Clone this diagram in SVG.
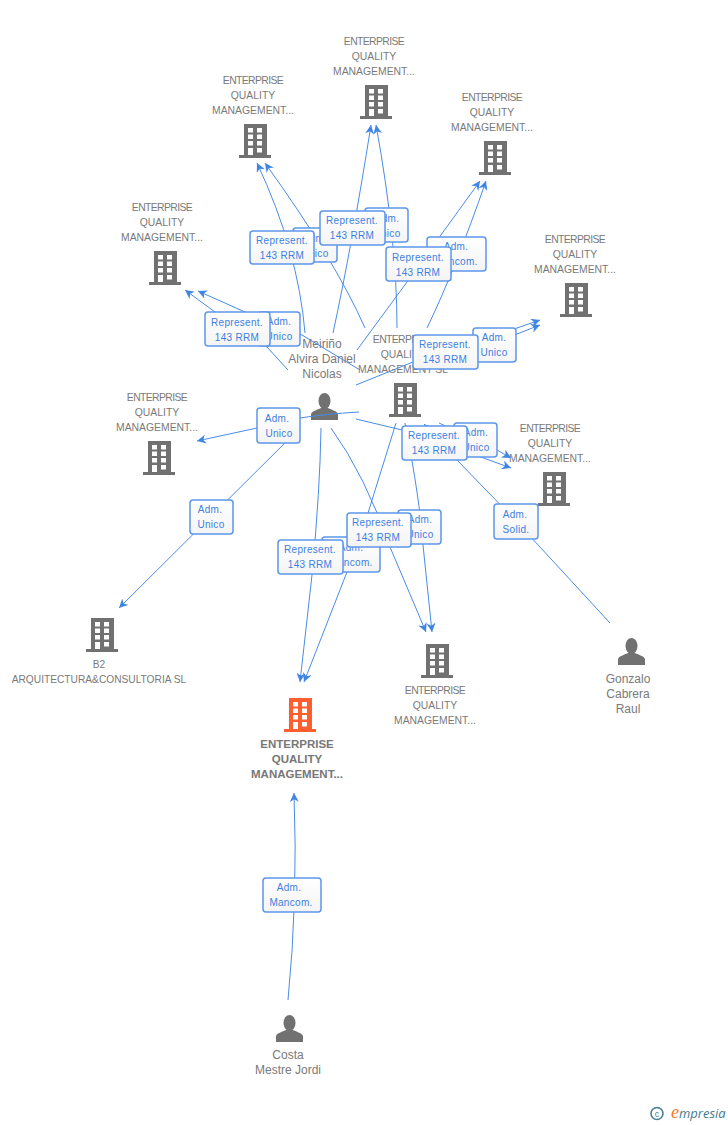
<svg xmlns="http://www.w3.org/2000/svg" width="728" height="1125" viewBox="0 0 728 1125">
<style>
text{font-family:"Liberation Sans",Arial,sans-serif}
.n{font-size:10.400px;fill:#7a7a7a;text-anchor:middle}
.w{letter-spacing:-.6px}
.p{font-size:12px;fill:#7a7a7a;text-anchor:middle}
.m{font-size:11.500px;font-weight:bold;fill:#777;text-anchor:middle}
.e{fill:none;stroke:#4a8ce6;stroke-width:1;marker-end:url(#a)}
.b{fill:url(#g);stroke:#5c97ea;stroke-width:1.500}
.l{font-size:10px;letter-spacing:.3px;fill:#3c80e0;text-anchor:middle}
</style>
<defs>
<linearGradient id="g" x1="0" y1="0" x2="0" y2="1"><stop offset="0" stop-color="#fff"/><stop offset="1" stop-color="#f4f4f4"/></linearGradient>
<marker id="a" markerUnits="userSpaceOnUse" markerWidth="9" markerHeight="9" refX="10" refY="5" orient="auto" viewBox="0 0 10 10"><path d="M10,5L0,0L3,5L0,10Z" fill="#3f85e4"/></marker>
<symbol id="bld" width="32" height="34" viewBox="0 0 32 34" overflow="visible"><path fill-rule="evenodd" d="M5,0H28V31H32V34H0V31H5ZM9,4V8.500H14V4ZM18,4V8.500H23V4ZM9,10.500V15H14V10.500ZM18,10.500V15H23V10.500ZM9,17V21.500H14V17ZM18,17V21.500H23V17ZM9,24V31H14V24ZM18,24V28.500H23V24Z"/></symbol>
<symbol id="per" width="27" height="27" viewBox="0 0 27 27"><ellipse cx="13.500" cy="8" rx="6" ry="8"/><path d="M0,27V21C1,18 6,17 10,15H17C21,17 26,18 27,21V27Z"/></symbol>
</defs>
<rect width="728" height="1125" fill="#fff"/>

<g id="n1" fill="#717171"><use href="#bld" x="360" y="85"/><text class="n"><tspan class="w" x="374" y="45">ENTERPRISE</tspan><tspan x="374" y="60">QUALITY</tspan><tspan x="374" y="75">MANAGEMENT...</tspan></text></g>
<g id="n2" fill="#717171"><use href="#bld" x="239" y="124"/><text class="n"><tspan class="w" x="253" y="84">ENTERPRISE</tspan><tspan x="253" y="99">QUALITY</tspan><tspan x="253" y="114">MANAGEMENT...</tspan></text></g>
<g id="n3" fill="#717171"><use href="#bld" x="479" y="141"/><text class="n"><tspan class="w" x="492" y="101">ENTERPRISE</tspan><tspan x="492" y="116">QUALITY</tspan><tspan x="492" y="131">MANAGEMENT...</tspan></text></g>
<g id="n4" fill="#717171"><use href="#bld" x="149" y="251"/><text class="n"><tspan class="w" x="162" y="211">ENTERPRISE</tspan><tspan x="162" y="226">QUALITY</tspan><tspan x="162" y="241">MANAGEMENT...</tspan></text></g>
<g id="n5" fill="#717171"><use href="#bld" x="560" y="283"/><text class="n"><tspan class="w" x="575" y="243">ENTERPRISE</tspan><tspan x="575" y="258">QUALITY</tspan><tspan x="575" y="273">MANAGEMENT...</tspan></text></g>
<g id="n6" fill="#717171"><use href="#bld" x="143" y="441"/><text class="n"><tspan class="w" x="157" y="401">ENTERPRISE</tspan><tspan x="157" y="416">QUALITY</tspan><tspan x="157" y="431">MANAGEMENT...</tspan></text></g>
<g id="n7" fill="#717171"><use href="#bld" x="389" y="383"/><text class="n"><tspan class="w" x="403" y="343">ENTERPRISE</tspan><tspan x="403" y="358">QUALITY</tspan><tspan x="403" y="373">MANAGEMENT SL</tspan></text></g>
<g id="n8" fill="#717171"><use href="#per" x="311" y="393"/><text class="p"><tspan x="322" y="348">Meiriño</tspan><tspan x="322" y="363">Alvira Daniel</tspan><tspan x="322" y="378">Nicolas</tspan></text></g>
<g id="n9" fill="#717171"><use href="#bld" x="538" y="472"/><text class="n"><tspan class="w" x="550" y="432">ENTERPRISE</tspan><tspan x="550" y="447">QUALITY</tspan><tspan x="550" y="462">MANAGEMENT...</tspan></text></g>
<g id="n10" fill="#717171"><use href="#bld" x="421" y="644"/><text class="n"><tspan class="w" x="435" y="694">ENTERPRISE</tspan><tspan x="435" y="709">QUALITY</tspan><tspan x="435" y="724">MANAGEMENT...</tspan></text></g>
<g id="n11" fill="#717171"><use href="#bld" x="86" y="618"/><text class="n" style="font-size:10.200px"><tspan x="99" y="668">B2</tspan><tspan x="99" y="683">ARQUITECTURA&amp;CONSULTORIA SL</tspan></text></g>
<g id="n12" fill="#ff5e2f"><use href="#bld" x="284" y="698"/><text class="m"><tspan x="297" y="748">ENTERPRISE</tspan><tspan x="297" y="763">QUALITY</tspan><tspan x="297" y="778">MANAGEMENT...</tspan></text></g>
<g id="n13" fill="#717171"><use href="#per" x="618" y="638"/><text class="p"><tspan x="628" y="683">Gonzalo</tspan><tspan x="628" y="698">Cabrera</tspan><tspan x="628" y="713">Raul</tspan></text></g>
<g id="n14" fill="#717171"><use href="#per" x="276" y="1015"/><text class="p"><tspan x="288" y="1059">Costa</tspan><tspan x="288" y="1074">Mestre Jordi</tspan></text></g>

<g id="connectors">
<path class="e" d="M333,333Q352,245 371,125"/>
<path class="e" d="M397,328Q397,240 376,125"/>
<path class="e" d="M305,333Q298,250 257,163"/>
<path class="e" d="M365,328Q335,260 265,163"/>
<path class="e" d="M357,350L407,282L480,181"/>
<path class="e" d="M427,328Q455,270 486,181"/>
<path class="e" d="M288,370L267,347L215,312L185,290"/>
<path class="e" d="M360,370L302,335L245,312L198,291"/>
<path class="e" d="M356,385L413,362L517,328L540,320"/>
<path class="e" d="M430,362L517,334L540,325"/>
<path class="e" d="M359,412Q325,414 300,418L257,428L197,441"/>
<path class="e" d="M298,430L119,608"/>
<path class="e" d="M356,419L402,430L467,452L511,468"/>
<path class="e" d="M439,423L497,450L511,458"/>
<path class="e" d="M610,623L516,521L457,460L424,424"/>
<path class="e" d="M405,423Q420,500 423,545L432,632"/>
<path class="e" d="M331,428Q365,475 390,547L426,632"/>
<path class="e" d="M321,428Q320,490 312,575L300,682"/>
<path class="e" d="M396,423L368,513L347,572L304,682"/>
<path class="e" d="M288,1000Q298,900 294,793"/>
</g>
<g id="labels">
<rect class="b" x="293" y="228" width="44" height="34" rx="3"/><text class="l"><tspan x="315" y="242">Adm.</tspan><tspan x="315" y="257">Unico</tspan></text>
<rect class="b" x="365" y="208" width="43" height="34" rx="3"/><text class="l"><tspan x="387" y="222">Adm.</tspan><tspan x="387" y="237">Unico</tspan></text>
<rect class="b" x="427" y="237" width="59" height="34" rx="3"/><text class="l"><tspan x="456" y="250">Adm.</tspan><tspan x="456" y="265">Mancom.</tspan></text>
<rect class="b" x="258" y="312" width="42" height="34" rx="3"/><text class="l"><tspan x="279" y="325">Adm.</tspan><tspan x="279" y="340">Unico</tspan></text>
<rect class="b" x="473" y="328" width="43" height="34" rx="3"/><text class="l"><tspan x="494" y="341">Adm.</tspan><tspan x="494" y="356">Unico</tspan></text>
<rect class="b" x="454" y="423" width="43" height="34" rx="3"/><text class="l"><tspan x="476" y="436">Adm.</tspan><tspan x="476" y="451">Unico</tspan></text>
<rect class="b" x="398" y="510" width="43" height="34" rx="3"/><text class="l"><tspan x="420" y="523">Adm.</tspan><tspan x="420" y="538">Unico</tspan></text>
<rect class="b" x="322" y="537" width="58" height="35" rx="3"/><text class="l"><tspan x="351" y="551">Adm.</tspan><tspan x="351" y="566">Mancom.</tspan></text>
<rect class="b" x="257" y="408" width="43" height="35" rx="3"/><text class="l"><tspan x="277" y="422">Adm.</tspan><tspan x="279" y="437">Unico</tspan></text>
<rect class="b" x="190" y="500" width="43" height="34" rx="3"/><text class="l"><tspan x="210" y="513">Adm.</tspan><tspan x="211" y="528">Unico</tspan></text>
<rect class="b" x="494" y="504" width="44" height="35" rx="3"/><text class="l"><tspan x="515" y="518">Adm.</tspan><tspan x="516" y="533">Solid.</tspan></text>
<rect class="b" x="263" y="878" width="58" height="34" rx="3"/><text class="l"><tspan x="289" y="891">Adm.</tspan><tspan x="291" y="906">Mancom.</tspan></text>
<rect class="b" x="250" y="231" width="64" height="33" rx="3"/><text class="l"><tspan x="282" y="244">Represent.</tspan><tspan x="282" y="259">143 RRM</tspan></text>
<rect class="b" x="320" y="211" width="65" height="34" rx="3"/><text class="l"><tspan x="352" y="224">Represent.</tspan><tspan x="352" y="239">143 RRM</tspan></text>
<rect class="b" x="386" y="247" width="65" height="34" rx="3"/><text class="l"><tspan x="418" y="261">Represent.</tspan><tspan x="418" y="276">143 RRM</tspan></text>
<rect class="b" x="205" y="312" width="65" height="34" rx="3"/><text class="l"><tspan x="237" y="326">Represent.</tspan><tspan x="237" y="341">143 RRM</tspan></text>
<rect class="b" x="413" y="335" width="65" height="34" rx="3"/><text class="l"><tspan x="445" y="348">Represent.</tspan><tspan x="445" y="363">143 RRM</tspan></text>
<rect class="b" x="402" y="426" width="65" height="34" rx="3"/><text class="l"><tspan x="434" y="439">Represent.</tspan><tspan x="434" y="454">143 RRM</tspan></text>
<rect class="b" x="347" y="513" width="64" height="34" rx="3"/><text class="l"><tspan x="378" y="526">Represent.</tspan><tspan x="378" y="541">143 RRM</tspan></text>
<rect class="b" x="278" y="540" width="65" height="34" rx="3"/><text class="l"><tspan x="310" y="553">Represent.</tspan><tspan x="310" y="568">143 RRM</tspan></text>
</g>
<g id="logo"><circle cx="657" cy="1113.500" r="6" fill="none" stroke="#4a7f95" stroke-width="1.600"/><text x="657" y="1116.500" font-size="9" fill="#4a7f95" text-anchor="middle">c</text><text x="671" y="1118" font-size="13" font-style="italic" fill="#3f7a92" style="font-family:'Open Sans',sans-serif"><tspan fill="#f07a1c" font-size="18" style="font-family:'Liberation Serif',serif">e</tspan>mpresia</text></g>
</svg>
